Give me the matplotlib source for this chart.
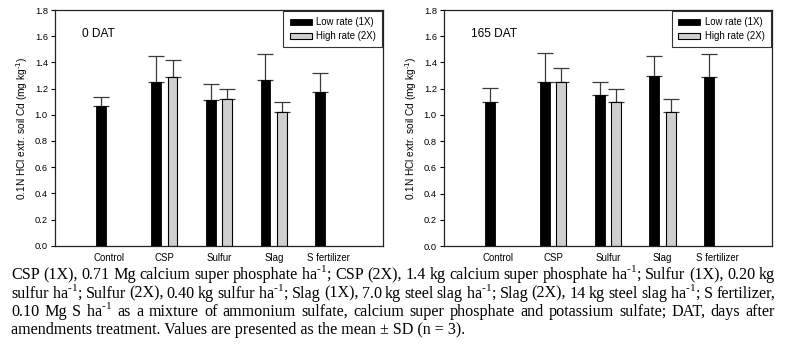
import matplotlib
matplotlib.use("Agg")
import matplotlib.pyplot as plt
from matplotlib.patches import Patch
import numpy as np

categories = ["Control", "CSP", "Sulfur", "Slag", "S fertilizer"]
series_names = ["Low rate (1X)", "High rate (2X)"]

# 0 DAT
low_0 = [1.067, 1.251, 1.113, 1.266, 1.170]
low_0_sd = [0.067, 0.200, 0.120, 0.198, 0.149]
high_0 = [None, 1.289, 1.118, 1.019, None]
high_0_sd = [None, 0.127, 0.077, 0.076, None]

# 165 DAT
low_165 = [1.096, 1.251, 1.154, 1.294, 1.289]
low_165_sd = [0.107, 0.221, 0.095, 0.158, 0.178]
high_165 = [None, 1.249, 1.096, 1.020, None]
high_165_sd = [None, 0.111, 0.102, 0.101, None]

panel_titles = ["0 DAT", "165 DAT"]
y_ticks = [0.0, 0.2, 0.4, 0.6, 0.8, 1.0, 1.2, 1.4, 1.6, 1.8]

SUP = r"$^{\text{-1}}$"
caption_lines = [
    "CSP (1X), 0.71 Mg calcium super phosphate ha" + SUP + "; CSP (2X), 1.4 kg calcium super phosphate ha" + SUP + "; Sulfur (1X), 0.20 kg",
    "sulfur ha" + SUP + "; Sulfur (2X), 0.40 kg sulfur ha" + SUP + "; Slag (1X), 7.0 kg steel slag ha" + SUP + "; Slag (2X), 14 kg steel slag ha" + SUP + "; S fertilizer,",
    "0.10 Mg S ha" + SUP + " as a mixture of ammonium sulfate, calcium super phosphate and potassium sulfate; DAT, days after",
    "amendments treatment. Values are presented as the mean ± SD (n = 3).",
]

SANS = "Liberation Sans"
SERIF = "Liberation Serif"
plt.rcParams["font.family"] = SANS
plt.rcParams["mathtext.fontset"] = "custom"
plt.rcParams["mathtext.rm"] = SERIF

W, H = 800, 362
fig = plt.figure(figsize=(8, 3.62), dpi=100)

axes_rects = [
    [54.7 / W, (H - 245.7) / H, 328.6 / W, 235.7 / H],
    [443.7 / W, (H - 246.0) / H, 328.3 / W, 236.0 / H],
]
data = [
    (low_0, low_0_sd, high_0, high_0_sd),
    (low_165, low_165_sd, high_165, high_165_sd),
]

bw = 0.182
off = 0.151
gray = "#cfcfcf"
x = np.arange(len(categories))

for rect, (lo, lo_sd, hi, hi_sd), title in zip(axes_rects, data, panel_titles):
    ax = fig.add_axes(rect)
    xl = x - off
    ax.errorbar(xl, lo, yerr=[np.zeros(len(lo)), lo_sd], fmt="none",
                ecolor="#3a3a3a", elinewidth=0.9, capsize=6, capthick=0.9, zorder=1)
    ax.bar(xl, lo, width=bw, color="black", edgecolor="black", linewidth=0.6, zorder=2)
    idx = [i for i, v in enumerate(hi) if v is not None]
    xh = x[idx] + off
    hv = [hi[i] for i in idx]
    hs = [hi_sd[i] for i in idx]
    ax.errorbar(xh, hv, yerr=[np.zeros(len(hv)), hs], fmt="none",
                ecolor="#3a3a3a", elinewidth=0.9, capsize=6, capthick=0.9, zorder=1)
    ax.bar(xh, hv, width=bw, color=gray, edgecolor="black", linewidth=0.8, zorder=2)

    ax.set_xlim(-1, 5)
    ax.set_ylim(0, 1.8)
    ax.set_yticks(y_ticks)
    ax.set_yticklabels([f"{t:.1f}" for t in y_ticks], fontsize=6.7)
    ax.set_xticks(x)
    ax.set_xticklabels(categories, fontsize=6.9)
    ax.tick_params(axis="x", length=0, pad=5)
    ax.tick_params(axis="y", direction="out", length=3, width=0.8, pad=2)
    for s in ax.spines.values():
        s.set_linewidth(0.9)
        s.set_color("#222222")
    ax.set_ylabel(r"0.1N HCl extr. soil Cd (mg kg$^{\text{-1}}$)", fontsize=7.3,
                  labelpad=3, math_fontfamily="dejavusans")
    ax.text(-0.50, 1.62, title, fontsize=8.6, ha="left", va="center")
    handles = [Patch(facecolor="black", edgecolor="black", linewidth=0.6),
               Patch(facecolor=gray, edgecolor="black", linewidth=0.8)]
    leg = ax.legend(handles, series_names, loc="upper right", fontsize=6.9,
                    frameon=True, fancybox=False, borderaxespad=0.12,
                    handlelength=2.3, handleheight=0.65, handletextpad=0.45,
                    borderpad=0.65, labelspacing=0.4)
    leg.get_frame().set_edgecolor("black")
    leg.get_frame().set_linewidth(0.8)

# justified caption
fig.canvas.draw()
renderer = fig.canvas.get_renderer()
left_px, right_px = 11.0, 775.0
baselines = [279.0, 297.5, 316.0, 334.5]
cap_fs = 11.6
for li, (line, yb) in enumerate(zip(caption_lines, baselines)):
    words = line.split(" ")
    yfig = (H - yb) / H
    if li == len(caption_lines) - 1:
        fig.text(left_px / W, yfig, line, fontsize=cap_fs, family=SERIF,
                 ha="left", va="baseline")
        continue
    objs = []
    widths = []
    for wd in words:
        t = fig.text(0, yfig, wd, fontsize=cap_fs, family=SERIF, ha="left", va="baseline")
        bb = t.get_window_extent(renderer=renderer)
        objs.append(t)
        widths.append(bb.width)
    gap = (right_px - left_px - sum(widths)) / (len(words) - 1)
    xpos = left_px
    for t, wdt in zip(objs, widths):
        t.set_x(xpos / W)
        xpos += wdt + gap

fig.savefig("out.png", dpi=100)
